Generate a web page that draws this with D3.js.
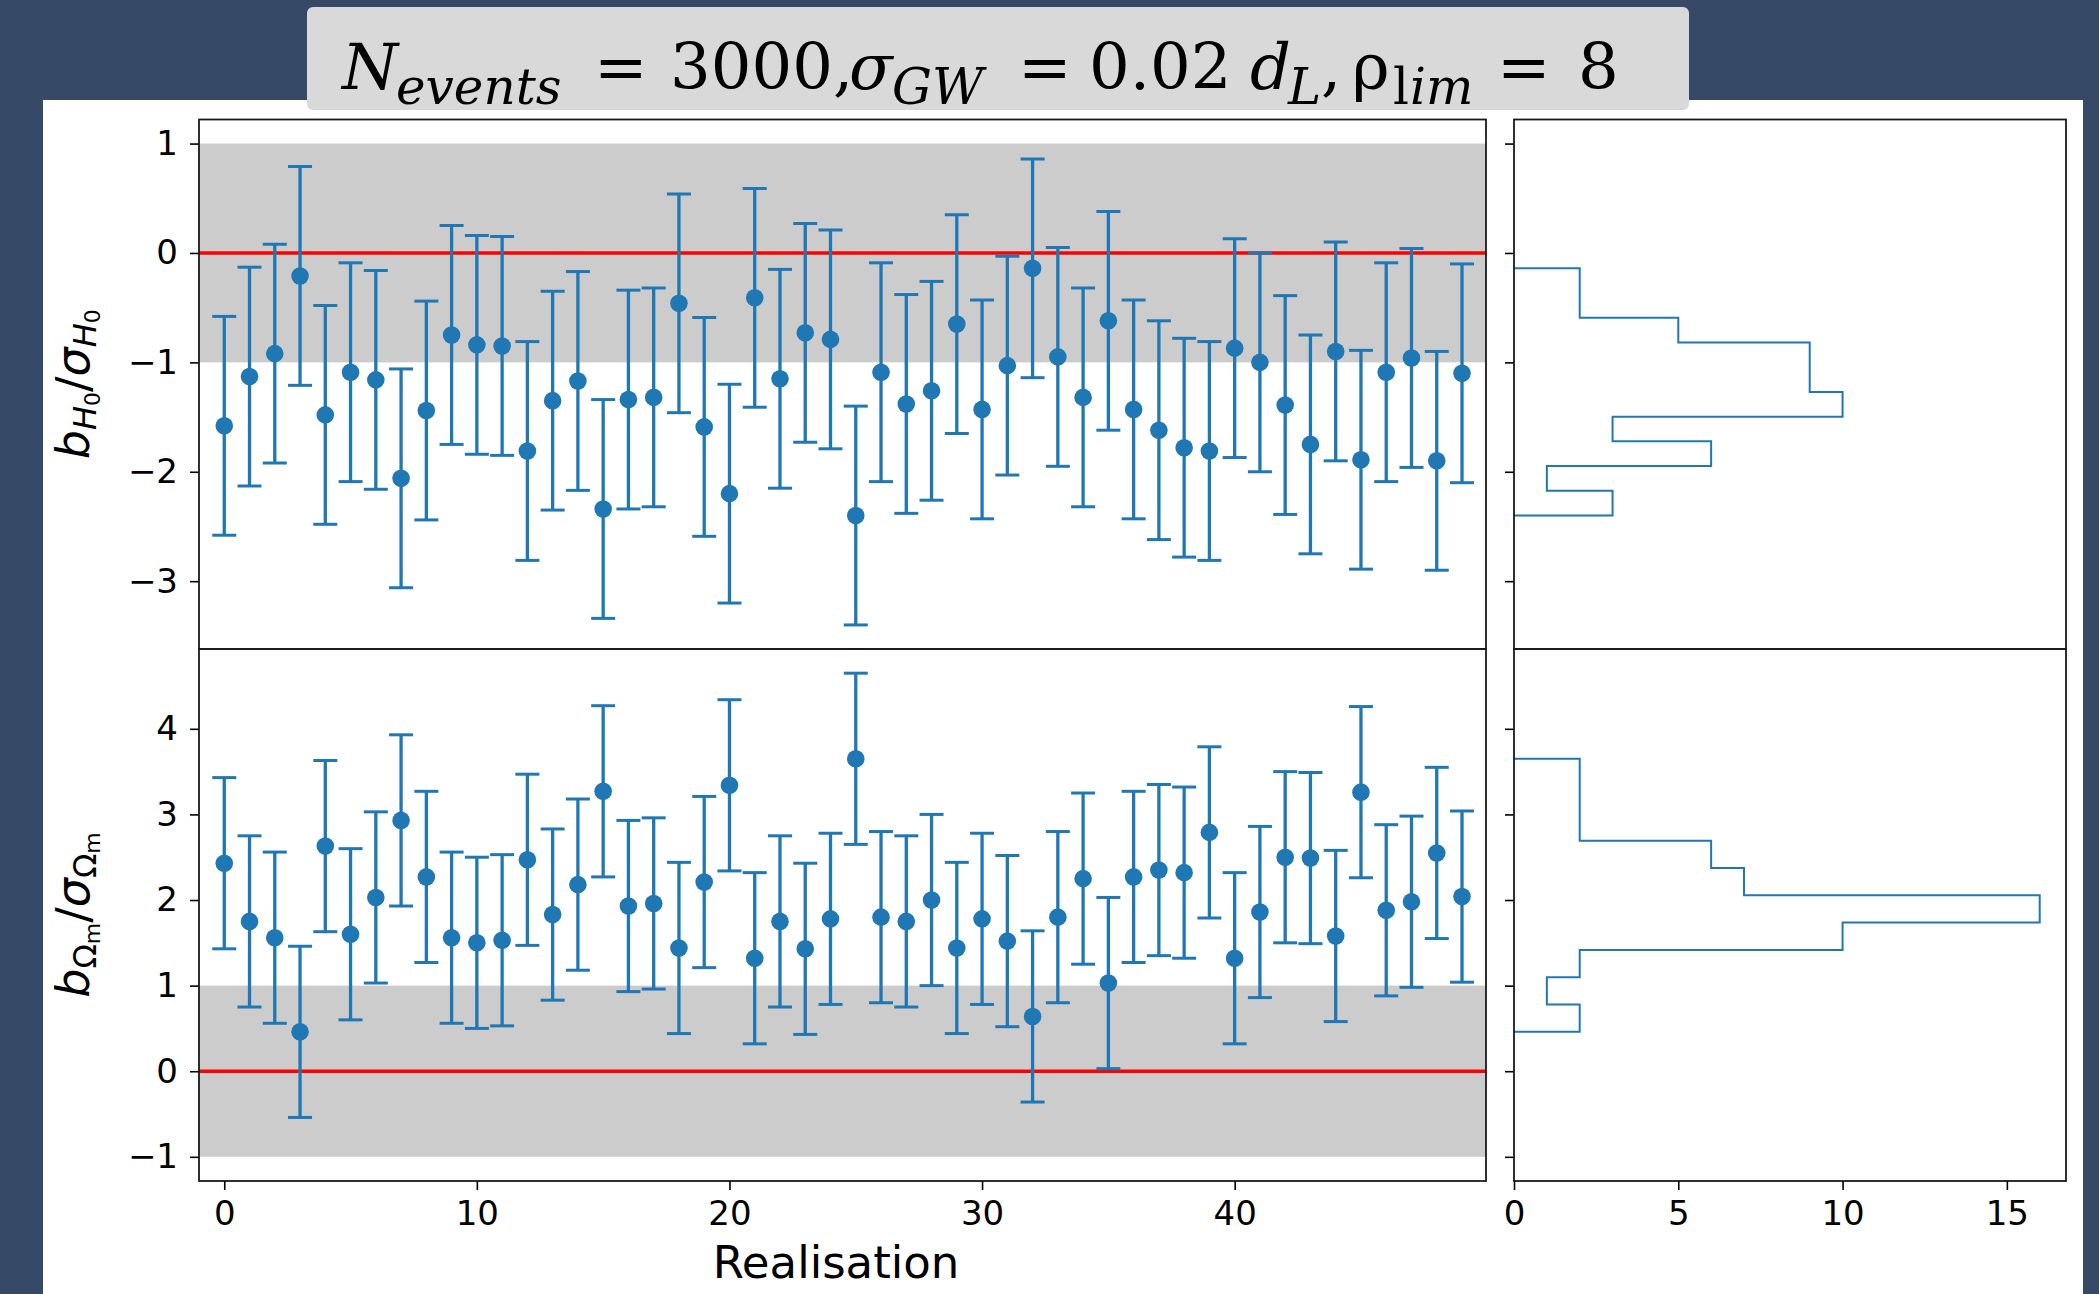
<!DOCTYPE html>
<html><head><meta charset="utf-8">
<script src="https://cdn.jsdelivr.net/npm/d3@7"></script>
<style>
html,body{margin:0;padding:0;background:#364a68;}
svg{display:block;}
</style></head><body>
<svg id="chart" width="2099" height="1294"></svg>
<script>
// ---------- data ----------
const realisations = [0,1,2,3,4,5,6,7,8,9,10,11,12,13,14,15,16,17,18,19,20,21,22,23,24,
  25,26,27,28,29,30,31,32,33,34,35,36,37,38,39,40,41,42,43,44,45,46,47,48,49];
const biasH0 = [-1.58,-1.13,-0.92,-0.21,-1.48,-1.09,-1.16,-2.06,-1.44,-0.75,
  -0.84,-0.85,-1.81,-1.35,-1.17,-2.34,-1.34,-1.32,-0.46,-1.59,
  -2.20,-0.41,-1.15,-0.73,-0.79,-2.40,-1.09,-1.38,-1.26,-0.65,
  -1.43,-1.03,-0.14,-0.95,-1.32,-0.62,-1.43,-1.62,-1.78,-1.81,
  -0.87,-1.00,-1.39,-1.75,-0.90,-1.89,-1.09,-0.96,-1.90,-1.10];
const biasOm = [2.43,1.75,1.56,0.46,2.63,1.60,2.03,2.93,2.27,1.56,
  1.50,1.53,2.47,1.83,2.18,3.27,1.93,1.96,1.44,2.21,
  3.34,1.32,1.75,1.43,1.78,3.65,1.80,1.75,2.00,1.44,
  1.78,1.52,0.64,1.80,2.25,1.03,2.27,2.35,2.32,2.79,
  1.32,1.86,2.50,2.49,1.58,3.26,1.88,1.98,2.55,2.04];
const errorHalfWidth = 1;          // error bars are +/- 1 sigma
const band = [-1, 1];              // shaded region
const nBins = 10;
const xTicks = [0, 10, 20, 30, 40];
const yTicksH0 = [1, 0, -1, -2, -3];
const yTicksOm = [4, 3, 2, 1, 0, -1];
const histTicks = [0, 5, 10, 15];
const xLabel = "Realisation";

// ---------- layout ----------
const svg = d3.select("#chart");
const L = 199, R = 1486, HL = 1514, HR = 2066;
const T1 = 119.5, B1 = 649, T2 = 649, B2 = 1181;
const blue = "#1f77b4";
const minus = d => d < 0 ? "\u2212" + Math.abs(d) : String(d);

svg.append("rect").attr("x", 0).attr("y", 0).attr("width", 2099).attr("height", 1294).attr("fill", "#364a68");
svg.append("rect").attr("x", 43).attr("y", 100).attr("width", 2040).attr("height", 1194).attr("fill", "#ffffff");

// title box
svg.append("rect").attr("x", 307).attr("y", 7).attr("width", 1382).attr("height", 103)
  .attr("rx", 6).attr("fill", "#d9d9d9");
const title = svg.append("text").attr("font-family", "DejaVu Serif").attr("fill", "#000").attr("font-size", 64);
const tparts = [
  {t: "N", x: 342, it: true, sub: false},
  {t: "events", x: 396, it: true, sub: true},
  {t: "=", x: 594, it: false, sub: false},
  {t: "3000,", x: 670, it: false, sub: false},
  {t: "\u03c3", x: 849, it: true, sub: false},
  {t: "GW", x: 892, it: true, sub: true},
  {t: "=", x: 1018, it: false, sub: false},
  {t: "0.02", x: 1089, it: false, sub: false},
  {t: "d", x: 1250, it: true, sub: false},
  {t: "L", x: 1288, it: true, sub: true},
  {t: ",", x: 1321, it: false, sub: false},
  {t: "\u03c1", x: 1352, it: false, sub: false},
  {t: "l", x: 1393, it: false, sub: true},
  {t: "im", x: 1410, it: true, sub: true},
  {t: "=", x: 1497, it: false, sub: false},
  {t: "8", x: 1578, it: false, sub: false}
];
tparts.forEach(p => {
  title.append("tspan").attr("x", p.x).attr("y", p.sub ? 104 : 89)
    .attr("font-size", p.sub ? 50 : 64)
    .attr("font-style", p.it ? "italic" : "normal").text(p.t);
});

// ---------- scales ----------
const x = d3.scaleLinear().domain([-1.0, 49.95]).range([L, R]);
function yDomain(vals) {
  const lo = Math.min(d3.min(vals) - errorHalfWidth, band[0]);
  const hi = Math.max(d3.max(vals) + errorHalfWidth, band[1]);
  const m = 0.05 * (hi - lo);
  return [lo - m, hi + m];
}
const yTop = d3.scaleLinear().domain(yDomain(biasH0)).range([B1, T1]);
const yBot = d3.scaleLinear().domain(yDomain(biasOm)).range([B2, T2]);

function makeBins(vals) {
  const [lo, hi] = d3.extent(vals);
  const w = (hi - lo) / nBins;
  const thr = d3.range(1, nBins).map(i => lo + i * w);
  const bins = d3.bin().domain([lo, hi]).thresholds(thr)(vals);
  const edges = [lo].concat(thr).concat([hi]);
  return bins.map((b, i) => ({c: b.length, e0: edges[i], e1: edges[i + 1]}));
}
const binsH0 = makeBins(biasH0);
const binsOm = makeBins(biasOm);
const maxCount = d3.max(binsH0.concat(binsOm), b => b.c);
const hx = d3.scaleLinear().domain([0, maxCount * 1.05]).range([HL, HR]);

// ---------- panels ----------
const defs = svg.append("defs");
function clip(id, x0, y0, x1, y1) {
  defs.append("clipPath").attr("id", id).append("rect")
    .attr("x", x0).attr("y", y0).attr("width", x1 - x0).attr("height", y1 - y0);
}
clip("c1", L, T1, R, B1); clip("c2", L, T2, R, B2);
clip("h1", HL, T1, HR, B1); clip("h2", HL, T2, HR, B2);

function mainPanel(vals, y, top, bot, clipId, ticks) {
  const g = svg.append("g").attr("clip-path", `url(#${clipId})`);
  g.append("rect").attr("x", L).attr("width", R - L)
    .attr("y", y(band[1])).attr("height", y(band[0]) - y(band[1])).attr("fill", "#cccccc");
  g.append("line").attr("x1", L).attr("x2", R).attr("y1", y(0)).attr("y2", y(0))
    .attr("stroke", "#ff0000").attr("stroke-width", 3.5);
  const pts = g.selectAll("g.pt").data(realisations.map((r, i) => ({r, v: vals[i]})))
    .enter().append("g").attr("class", "pt");
  pts.append("line").attr("x1", d => x(d.r)).attr("x2", d => x(d.r))
    .attr("y1", d => y(d.v - errorHalfWidth)).attr("y2", d => y(d.v + errorHalfWidth))
    .attr("stroke", blue).attr("stroke-width", 3.3);
  [1, -1].forEach(s => {
    pts.append("line").attr("x1", d => x(d.r) - 12).attr("x2", d => x(d.r) + 12)
      .attr("y1", d => y(d.v + s * errorHalfWidth)).attr("y2", d => y(d.v + s * errorHalfWidth))
      .attr("stroke", blue).attr("stroke-width", 3);
  });
  pts.append("circle").attr("cx", d => x(d.r)).attr("cy", d => y(d.v)).attr("r", 8.8).attr("fill", blue);

  const ax = svg.append("g").attr("transform", `translate(${L},0)`)
    .call(d3.axisLeft(y).tickValues(ticks).tickSize(9).tickPadding(12).tickFormat(minus));
  ax.select(".domain").remove();
  ax.selectAll(".tick line").attr("stroke", "#000").attr("stroke-width", 1.6);
  ax.selectAll(".tick text").attr("font-family", "DejaVu Sans").attr("font-size", 34).attr("fill", "#000");

  svg.append("rect").attr("x", L).attr("y", top).attr("width", R - L).attr("height", bot - top)
    .attr("fill", "none").attr("stroke", "#1a1a1a").attr("stroke-width", 1.8);
}

function histPanel(bins, y, top, bot, clipId, ticks) {
  const g = svg.append("g").attr("clip-path", `url(#${clipId})`);
  const pts = [[0, bins[0].e0]];
  bins.forEach(b => { pts.push([b.c, b.e0]); pts.push([b.c, b.e1]); });
  pts.push([0, bins[bins.length - 1].e1]);
  g.append("path").attr("d", d3.line().x(d => hx(d[0])).y(d => y(d[1]))(pts))
    .attr("fill", "none").attr("stroke", blue).attr("stroke-width", 2);
  const ax = svg.append("g").attr("transform", `translate(${HL},0)`)
    .call(d3.axisLeft(y).tickValues(ticks).tickSize(9).tickFormat(""));
  ax.select(".domain").remove();
  ax.selectAll(".tick line").attr("stroke", "#000").attr("stroke-width", 1.6);
  svg.append("rect").attr("x", HL).attr("y", top).attr("width", HR - HL).attr("height", bot - top)
    .attr("fill", "none").attr("stroke", "#1a1a1a").attr("stroke-width", 1.8);
}

mainPanel(biasH0, yTop, T1, B1, "c1", yTicksH0);
mainPanel(biasOm, yBot, T2, B2, "c2", yTicksOm);
histPanel(binsH0, yTop, T1, B1, "h1", yTicksH0);
histPanel(binsOm, yBot, T2, B2, "h2", yTicksOm);

// bottom axes
function bottomAxis(scale, ticks) {
  const ax = svg.append("g").attr("transform", `translate(0,${B2})`)
    .call(d3.axisBottom(scale).tickValues(ticks).tickSize(9).tickPadding(11));
  ax.select(".domain").remove();
  ax.selectAll(".tick line").attr("stroke", "#000").attr("stroke-width", 1.6);
  ax.selectAll(".tick text").attr("font-family", "DejaVu Sans").attr("font-size", 34).attr("fill", "#000");
}
bottomAxis(x, xTicks);
bottomAxis(hx, histTicks);

// axis labels
svg.append("text").attr("x", 836).attr("y", 1278).attr("text-anchor", "middle")
  .attr("font-family", "DejaVu Sans").attr("font-size", 45).attr("fill", "#000").text(xLabel);

function ylabel(cy, parts) {
  const t = svg.append("text").attr("transform", `translate(89,${cy}) rotate(-90)`)
    .attr("text-anchor", "middle").attr("font-family", "DejaVu Sans").attr("fill", "#000");
  parts.forEach(p => {
    t.append("tspan").attr("font-size", p.s).attr("font-style", p.it ? "italic" : "normal")
      .attr("dy", p.dy).text(p.t);
  });
}
ylabel((T1 + B1) / 2, [
  {t: "b", s: 46, it: true, dy: 0}, {t: "H", s: 32, it: true, dy: 7}, {t: "0", s: 22, it: false, dy: 4},
  {t: "/", s: 46, it: false, dy: -11}, {t: "\u03c3", s: 46, it: true, dy: 0},
  {t: "H", s: 32, it: true, dy: 7}, {t: "0", s: 22, it: false, dy: 4}
]);
ylabel((T2 + B2) / 2, [
  {t: "b", s: 46, it: true, dy: 0}, {t: "\u03a9", s: 32, it: false, dy: 7}, {t: "m", s: 22, it: false, dy: 4},
  {t: "/", s: 46, it: false, dy: -11}, {t: "\u03c3", s: 46, it: true, dy: 0},
  {t: "\u03a9", s: 32, it: false, dy: 7}, {t: "m", s: 22, it: false, dy: 4}
]);
</script>
</body></html>
